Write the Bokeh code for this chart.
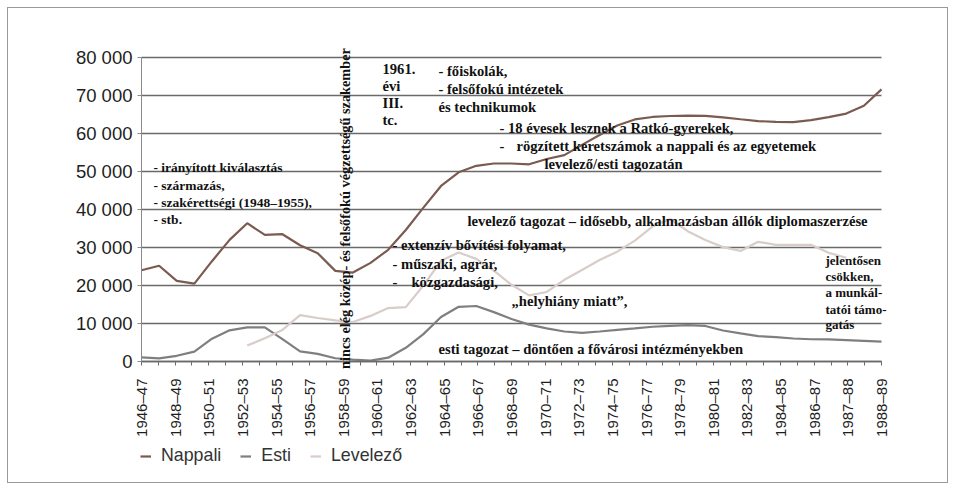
import math
from bokeh.plotting import figure
from bokeh.models import (Range1d, FixedTicker, Label, Legend, LegendItem,
                          CustomJSTickFormatter)
from bokeh.embed import file_html
from bokeh.resources import INLINE

# ---------------- data ----------------
tick_labels = ["1946–47", "1948–49", "1950–51", "1952–53", "1954–55", "1956–57",
               "1958–59", "1960–61", "1962–63", "1964–65", "1966–67", "1968–69",
               "1970–71", "1972–73", "1974–75", "1976–77", "1978–79", "1980–81",
               "1982–83", "1984–85", "1986–87", "1987–88", "1988–89"]
n_ticks = 45          # tick marks on the category axis (labels on every second one)

nappali = [24000, 25200, 21200, 20500, 26400, 32000, 36400, 33300, 33500, 30600,
           28500, 23850, 23400, 25950, 29400, 34600, 40500, 46200, 49800, 51500,
           52100, 52100, 51900, 53300, 54300, 57000, 59600, 62100, 63700, 64350,
           64600, 64700, 64650, 64250, 63750, 63270, 63050, 63000, 63500, 64300,
           65250, 67300, 71600]

esti = [1100, 800, 1500, 2600, 6000, 8200, 9000, 9000, 5900, 2650,
        2000, 850, 500, 250, 1000, 3600, 7200, 11700, 14400, 14600,
        13000, 11200, 9700, 8700, 7900, 7550, 7900, 8300, 8700, 9150,
        9400, 9550, 9350, 8150, 7400, 6700, 6400, 6050, 5850, 5800,
        5650, 5450, 5250]

levelezo = [None, None, None, None, None, None, 4200, 6100, 8300, 12200,
            11450, 10800, 10400, 12000, 14050, 14300, 20000, 26500, 28700, 27000,
            23900, 20200, 17400, 18300, 21500, 24100, 26700, 28900, 31800, 35500,
            37500, 34300, 32000, 30100, 29100, 31500, 30700, 30700, 30700, 28600,
            27300, None, None]

y_ticks = [0, 10000, 20000, 30000, 40000, 50000, 60000, 70000, 80000]
y_tick_labels = ["0", "10 000", "20 000", "30 000", "40 000", "50 000",
                 "60 000", "70 000", "80 000"]

series_names = ["Nappali", "Esti", "Levelező"]
series_colors = ["#7b5a50", "#7f7f7f", "#d8cdc9"]

# ---------------- layout (pixels inside the figure) ----------------
FIG_W, FIG_H = 941, 476
X0_PX = 133.0              # first category
X_STEP = 740.0 / 42        # px per category
Y0_PX = 353.0              # value 0, from top
Y_PER_PX = 80000.0 / 304   # value per px

n = len(nappali)
xs = list(range(n))
x_lo = -X0_PX / X_STEP
x_hi = (FIG_W - X0_PX) / X_STEP
y_hi = Y0_PX * Y_PER_PX
y_lo = -(FIG_H - Y0_PX) * Y_PER_PX


def px_x(page_px):
    return (page_px - 7 - X0_PX) / X_STEP


def px_y(page_py):
    return (Y0_PX - (page_py - 7)) * Y_PER_PX


p = figure(width=FIG_W, height=FIG_H, output_backend="svg", toolbar_location=None,
           x_range=Range1d(x_lo, x_hi), y_range=Range1d(y_lo, y_hi),
           min_border_left=0, min_border_right=0, min_border_top=0,
           min_border_bottom=0)
p.outline_line_color = None
p.background_fill_color = "white"
p.border_fill_color = "white"
p.styles = {"border": "1px solid #9a9a9a", "margin-left": "7px", "margin-top": "7px"}

p.xgrid.grid_line_color = None
p.ygrid.grid_line_color = None

# horizontal grid lines over the category span
p.segment(x0=[0] * len(y_ticks), x1=[n - 1] * len(y_ticks), y0=y_ticks, y1=y_ticks,
          line_color="#6a6a6a", line_width=1.6)

# y axis at x = 0
yaxis = p.yaxis[0]
yaxis.fixed_location = 0
yaxis.bounds = (0, y_ticks[-1])
yaxis.ticker = FixedTicker(ticks=y_ticks)
yaxis.major_label_overrides = {t: l for t, l in zip(y_ticks, y_tick_labels)}
yaxis.major_label_text_font = "Liberation Sans"
yaxis.major_label_text_font_size = "18.5px"
yaxis.major_label_text_color = "#1e1e1e"
yaxis.axis_line_color = "#8a8a8a"
yaxis.major_tick_line_color = "#8a8a8a"
yaxis.major_tick_out = 4
yaxis.major_tick_in = 0
yaxis.minor_tick_line_color = None
yaxis.major_label_standoff = 5

# x axis at y = 0
xaxis = p.xaxis[0]
xaxis.fixed_location = 0
xaxis.bounds = (0, n - 1)
xaxis.ticker = FixedTicker(ticks=[k * (n - 1) / (n_ticks - 1) for k in range(n_ticks)])
xaxis.formatter = CustomJSTickFormatter(args=dict(labels=tick_labels),
                                        code="return (index % 2 == 0) ? labels[index / 2] : '';")
xaxis.major_label_orientation = math.pi / 2
xaxis.major_label_text_font = "Liberation Sans"
xaxis.major_label_text_font_size = "15px"
xaxis.major_label_text_color = "#1e1e1e"
xaxis.axis_line_color = "#6a6a6a"
xaxis.axis_line_width = 1.5
xaxis.major_tick_line_color = "#6a6a6a"
xaxis.major_tick_out = 4
xaxis.major_tick_in = 0
xaxis.minor_tick_line_color = None
xaxis.major_label_standoff = 13

# lines
renderers = []
for name, vals, col in zip(series_names, [nappali, esti, levelezo], series_colors):
    yv = [float("nan") if v is None else v for v in vals]
    r = p.line(xs, yv, line_color=col, line_width=2.2)
    renderers.append(r)

legend = Legend(items=[LegendItem(label=nm, renderers=[r]) for nm, r in zip(series_names, renderers)],
                location=(X0_PX - 1, 18), orientation="horizontal")
legend.border_line_color = None
legend.background_fill_alpha = 0
legend.padding = 0
legend.margin = 0
legend.spacing = 19
legend.glyph_width = 11
legend.glyph_height = 20
legend.label_height = 20
legend.label_standoff = 10
legend.label_text_font = "Liberation Sans"
legend.label_text_font_size = "17.8px"
legend.label_text_color = "#333333"
p.add_layout(legend)

# ---------------- annotations (page pixel positions) ----------------
serif = "Liberation Serif"
left_notes = [
    ("- irányított kiválasztás", 152, 166),
    ("- származás,", 152, 184),
    ("- szakérettségi (1948–1955),", 152, 201),
    ("- stb.", 152, 218),
]
notes = [
    ("1961.", 381, 67),
    ("évi", 381, 84),
    ("III.", 381, 101),
    ("tc.", 381, 118),
    ("- főiskolák,", 437, 69),
    ("- felsőfokú intézetek", 437, 87),
    ("és technikumok", 437, 105),
    ("- 18 évesek lesznek a Ratkó-gyerekek,", 498, 126),
    ("-", 498, 144),
    ("rögzített keretszámok a nappali és az egyetemek", 515, 144),
    ("levelező/esti tagozatán", 543, 162.5),
    ("levelező tagozat – idősebb, alkalmazásban állók diplomaszerzése", 466, 219),
    ("- extenzív bővítési folyamat,", 391, 243.5),
    ("- műszaki, agrár,", 391, 262),
    ("-", 391, 280),
    ("közgazdasági,", 410, 280),
    ("„helyhiány miatt”,", 510, 299),
    ("esti tagozat – döntően a fővárosi intézményekben", 437, 347),
]
for group, size in ((left_notes, "13.5px"), (notes, "14.6px")):
    for txt, x, y in group:
        p.add_layout(Label(x=px_x(x), y=px_y(y), text=txt, text_font=serif,
                           text_font_style="bold", text_font_size=size,
                           text_color="#111111", text_baseline="middle",
                           text_align="left"))

right_notes = [("jelentősen", 259), ("csökken,", 275), ("a munkál-", 291),
               ("tatói támo-", 307.5), ("gatás", 323)]
for txt, y in right_notes:
    p.add_layout(Label(x=px_x(824), y=px_y(y), text=txt, text_font=serif,
                       text_font_style="bold", text_font_size="13px",
                       text_color="#111111", text_baseline="middle",
                       text_align="left"))

p.add_layout(Label(x=px_x(343), y=px_y(207),
                   text="nincs elég közép- és felsőfokú végzettségű szakember",
                   angle=math.pi / 2, text_font=serif, text_font_style="bold",
                   text_font_size="14.3px", text_color="#111111",
                   text_baseline="middle", text_align="center"))

open("out.html", "w").write(file_html(p, INLINE))
